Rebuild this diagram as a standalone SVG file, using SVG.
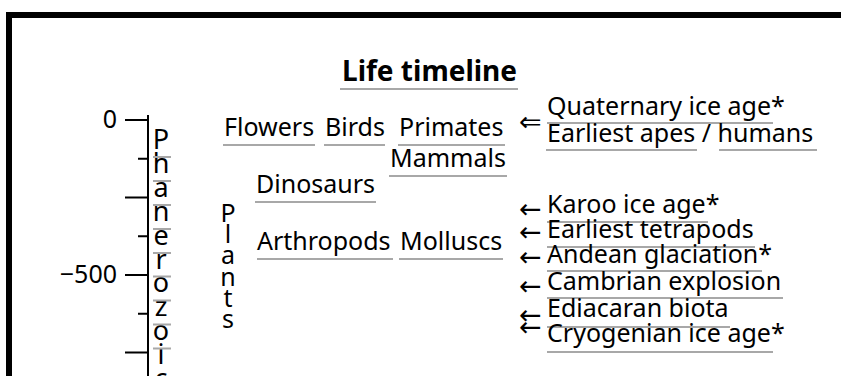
<svg xmlns="http://www.w3.org/2000/svg" width="841" height="376" viewBox="0 0 841 376">
<style>
text{font-family:"Noto Sans","Open Sans","DejaVu Sans",sans-serif;font-size:25px;fill:#000}
.t{font-weight:bold;font-size:28px}
.ar{font-family:"DejaVu Sans",sans-serif;font-size:27px}
.v{font-size:27px}
.u{stroke:#a8a8a8;stroke-width:2;fill:none}
.ax{stroke:#000;stroke-width:2;fill:none}
</style>
<rect x="0" y="0" width="841" height="376" fill="#fff"/>
<path d="M9 380V15H850" fill="none" stroke="#000" stroke-width="6"/>
<g id="title">
<text class="t" x="342" y="81">Life timeline</text>
<line class="u" x1="340" y1="89" x2="518" y2="89"/>
</g>
<g id="axis">
<line class="ax" x1="148" y1="115" x2="148" y2="376"/>
<path class="ax" d="M125 120H148M138 158.75H148M125 197.5H148M138 236.25H148M125 275H148M138 313.75H148M125 352.5H148"/>
<text x="117" y="128" text-anchor="end">0</text>
<text x="117" y="283" text-anchor="end">−500</text>
</g>
<g id="phanerozoic">
<text class="v" text-anchor="middle"><tspan x="161" y="149">P</tspan><tspan x="161" dy="23.9">h</tspan><tspan x="161" dy="23.9">a</tspan><tspan x="161" dy="23.9">n</tspan><tspan x="161" dy="23.9">e</tspan><tspan x="161" dy="23.9">r</tspan><tspan x="161" dy="23.9">o</tspan><tspan x="161" dy="23.9">z</tspan><tspan x="161" dy="23.9">o</tspan><tspan x="161" dy="23.9">i</tspan><tspan x="161" dy="23.9">c</tspan></text>
<path class="u" d="M153 157H171M153 181H171M153 205H171M153 229H171M153 253H171M153 276.5H171M153 300.5H171M153 324.5H171M153 348.5H171"/>
</g>
<g id="plants">
<text text-anchor="middle"><tspan x="228" y="222">P</tspan><tspan x="228" dy="21.2">l</tspan><tspan x="228" dy="21.2">a</tspan><tspan x="228" dy="21.2">n</tspan><tspan x="228" dy="21.2">t</tspan><tspan x="228" dy="21.2">s</tspan></text>
</g>
<g id="flowers"><text x="224" y="136">Flowers</text><line class="u" x1="223" y1="145" x2="315" y2="145"/></g>
<g id="birds"><text x="325" y="136">Birds</text><line class="u" x1="324" y1="145" x2="385" y2="145"/></g>
<g id="primates"><text x="399" y="136">Primates</text><line class="u" x1="398" y1="145" x2="505" y2="145"/></g>
<g id="mammals"><text x="390" y="167">Mammals</text><line class="u" x1="389" y1="176" x2="507" y2="176"/></g>
<g id="dinosaurs"><text x="256" y="193">Dinosaurs</text><line class="u" x1="255" y1="202" x2="376" y2="202"/></g>
<g id="arthropods"><text x="257" y="250">Arthropods</text><line class="u" x1="257" y1="259" x2="393" y2="259"/></g>
<g id="molluscs"><text x="400" y="250">Molluscs</text><line class="u" x1="399" y1="259" x2="503" y2="259"/></g>
<g id="quaternary"><text class="ar" x="519" y="131">⇐</text><text x="547" y="115">Quaternary ice age*</text><line class="u" x1="547" y1="123" x2="773" y2="123"/></g>
<g id="apes"><text x="547" y="142">Earliest apes / humans</text><line class="u" x1="546" y1="150" x2="697" y2="150"/><line class="u" x1="719" y1="150" x2="817" y2="150"/></g>
<g id="karoo"><text class="ar" x="519" y="218">←</text><text x="547" y="213">Karoo ice age*</text><line class="u" x1="547" y1="222" x2="708" y2="222"/></g>
<g id="tetrapods"><text class="ar" x="519" y="241">←</text><text x="547" y="238">Earliest tetrapods</text><line class="u" x1="547" y1="247" x2="755" y2="247"/></g>
<g id="andean"><text class="ar" x="519" y="266">←</text><text x="547" y="263">Andean glaciation*</text><line class="u" x1="547" y1="271" x2="762" y2="271"/></g>
<g id="cambrian"><text class="ar" x="519" y="295">←</text><text x="547" y="290">Cambrian explosion</text><line class="u" x1="547" y1="298" x2="783" y2="298"/></g>
<g id="ediacaran"><text class="ar" x="519" y="324">←</text><text x="547" y="317">Ediacaran biota</text><line class="u" x1="547" y1="327" x2="730" y2="327"/></g>
<g id="cryogenian"><text class="ar" x="519" y="336">←</text><text x="547" y="342">Cryogenian ice age*</text><line class="u" x1="547" y1="352" x2="773" y2="352"/></g>
</svg>
